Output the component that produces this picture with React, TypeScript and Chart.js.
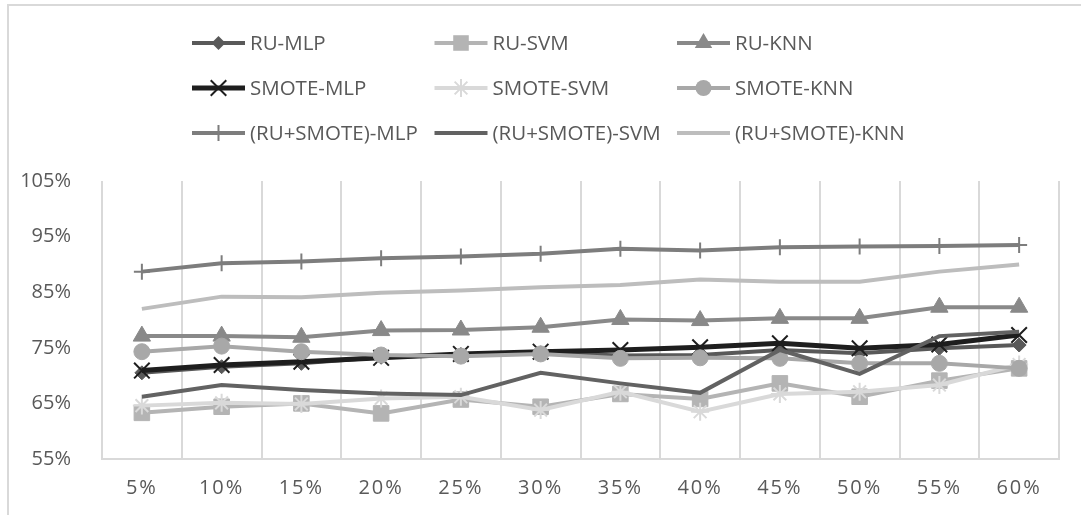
import React, { useEffect, useRef } from 'react';
import { Chart, registerables } from 'chart.js';

Chart.register(...registerables);

const categories = ['5%', '10%', '15%', '20%', '25%', '30%', '35%', '40%', '45%', '50%', '55%', '60%'];

const ruMlp = [70.5, 71.6, 72.2, 73.3, 73.8, 74.1, 73.6, 73.7, 74.6, 74.0, 74.9, 75.5];
const ruSvm = [63.3, 64.4, 65.0, 63.2, 65.7, 64.4, 66.7, 65.8, 68.6, 66.2, 69.1, 71.3];
const ruKnn = [77.1, 77.1, 76.9, 78.1, 78.2, 78.7, 80.1, 79.9, 80.3, 80.3, 82.3, 82.3];
const smoteMlp = [70.9, 71.9, 72.5, 73.2, 73.9, 74.3, 74.6, 75.1, 75.8, 74.9, 75.6, 77.3];
const smoteSvm = [64.6, 65.1, 64.9, 65.9, 66.2, 63.8, 67.1, 63.5, 66.7, 67.1, 68.3, 72.0];
const smoteKnn = [74.3, 75.3, 74.3, 73.7, 73.5, 73.9, 73.1, 73.2, 73.1, 72.2, 72.2, 71.3];
const bothMlp = [88.7, 90.2, 90.5, 91.1, 91.4, 91.9, 92.8, 92.5, 93.1, 93.2, 93.3, 93.5];
const bothSvm = [66.2, 68.3, 67.4, 66.8, 66.5, 70.5, 68.6, 66.9, 74.6, 70.3, 77.1, 77.9];
const bothKnn = [82.0, 84.2, 84.1, 84.9, 85.3, 85.9, 86.3, 87.3, 86.9, 86.9, 88.7, 90.0];

const yMin = 55;
const yMax = 105;
const yStep = 10;

type Series = {
  label: string;
  data: number[];
  color: string;
  style: string | false;
  radius: number;
  legendRadius: number;
  width: number;
  markerWidth: number;
};

const series: Series[] = [
  { label: 'RU-MLP', data: ruMlp, color: '#595959', style: 'rectRot', radius: 7, legendRadius: 7, width: 4, markerWidth: 1 },
  { label: 'RU-SVM', data: ruSvm, color: '#b4b4b4', style: 'rect', radius: 11, legendRadius: 11, width: 4, markerWidth: 1 },
  { label: 'RU-KNN', data: ruKnn, color: '#898989', style: 'triangle', radius: 10, legendRadius: 10, width: 4, markerWidth: 1 },
  { label: 'SMOTE-MLP', data: smoteMlp, color: '#1e1e1e', style: 'crossRot', radius: 11, legendRadius: 11, width: 5, markerWidth: 2 },
  { label: 'SMOTE-SVM', data: smoteSvm, color: '#d9d9d9', style: 'star', radius: 9, legendRadius: 9, width: 4, markerWidth: 2 },
  { label: 'SMOTE-KNN', data: smoteKnn, color: '#a8a8a8', style: 'circle', radius: 8, legendRadius: 8, width: 4, markerWidth: 1 },
  { label: '(RU+SMOTE)-MLP', data: bothMlp, color: '#7d7d7d', style: 'cross', radius: 8, legendRadius: 8, width: 4, markerWidth: 2 },
  { label: '(RU+SMOTE)-SVM', data: bothSvm, color: '#626262', style: false, radius: 0, legendRadius: 0, width: 4, markerWidth: 1 },
  { label: '(RU+SMOTE)-KNN', data: bothKnn, color: '#bdbdbd', style: false, radius: 0, legendRadius: 0, width: 4, markerWidth: 1 },
];

function drawMarker(ctx: CanvasRenderingContext2D, style: string | false, x: number, y: number, r: number, color: string, lw: number) {
  if (!style || r <= 0) return;
  ctx.save();
  ctx.fillStyle = color;
  ctx.strokeStyle = color;
  ctx.lineWidth = lw;
  ctx.beginPath();
  switch (style) {
    case 'rectRot':
      ctx.moveTo(x, y - r);
      ctx.lineTo(x + r, y);
      ctx.lineTo(x, y + r);
      ctx.lineTo(x - r, y);
      ctx.closePath();
      ctx.fill();
      break;
    case 'rect': {
      const s = r * Math.SQRT1_2;
      ctx.rect(x - s, y - s, 2 * s, 2 * s);
      ctx.fill();
      break;
    }
    case 'triangle':
      ctx.moveTo(x, y - r);
      ctx.lineTo(x + r * 0.87, y + r * 0.5);
      ctx.lineTo(x - r * 0.87, y + r * 0.5);
      ctx.closePath();
      ctx.fill();
      break;
    case 'circle':
      ctx.arc(x, y, r, 0, Math.PI * 2);
      ctx.fill();
      break;
    case 'crossRot': {
      const d = r * Math.SQRT1_2;
      ctx.moveTo(x - d, y - d); ctx.lineTo(x + d, y + d);
      ctx.moveTo(x + d, y - d); ctx.lineTo(x - d, y + d);
      ctx.stroke();
      break;
    }
    case 'star': {
      const d = r * Math.SQRT1_2;
      ctx.moveTo(x - d, y - d); ctx.lineTo(x + d, y + d);
      ctx.moveTo(x + d, y - d); ctx.lineTo(x - d, y + d);
      ctx.moveTo(x, y - r); ctx.lineTo(x, y + r);
      ctx.moveTo(x - r, y); ctx.lineTo(x + r, y);
      ctx.stroke();
      break;
    }
    case 'cross':
      ctx.moveTo(x, y - r); ctx.lineTo(x, y + r);
      ctx.moveTo(x - r, y); ctx.lineTo(x + r, y);
      ctx.stroke();
      break;
  }
  ctx.restore();
}

const legendPlugin = {
  id: 'gridLegend',
  afterDraw(chart: any) {
    const ctx: CanvasRenderingContext2D = chart.ctx;
    series.forEach((s, i) => {
      const col = i % 3;
      const row = Math.floor(i / 3);
      const x0 = 183 + col * 242.5;
      const y = 37 + row * 45;
      ctx.save();
      ctx.strokeStyle = s.color;
      ctx.lineWidth = s.width;
      ctx.beginPath();
      ctx.moveTo(x0, y);
      ctx.lineTo(x0 + 53, y);
      ctx.stroke();
      drawMarker(ctx, s.style, x0 + 26.5, y, s.legendRadius, s.color, s.markerWidth);
      ctx.font = '20.5px "Open Sans", sans-serif';
      ctx.fillStyle = '#595959';
      ctx.textBaseline = 'middle';
      ctx.textAlign = 'left';
      ctx.fillText(s.label, x0 + 58, y + 1);
      ctx.restore();
    });
  },
};

export default function App() {
  const canvasRef = useRef<HTMLCanvasElement | null>(null);

  useEffect(() => {
    const canvas = canvasRef.current;
    if (!canvas) return;
    const chart = new Chart(canvas, {
      type: 'line',
      data: {
        labels: categories,
        datasets: series.map((s, i) => ({
          label: s.label,
          data: s.data,
          borderColor: s.color,
          backgroundColor: s.color,
          borderWidth: s.width,
          pointStyle: s.style as any,
          pointRadius: s.radius,
          pointHoverRadius: s.radius,
          pointBackgroundColor: s.color,
          pointBorderColor: s.color,
          pointBorderWidth: s.markerWidth,
          tension: 0,
          fill: false,
          order: -i,
        })),
      },
      options: {
        animation: false,
        responsive: false,
        maintainAspectRatio: false,
        layout: { padding: { top: 175, right: 22, bottom: 15, left: 0 } },
        plugins: {
          legend: { display: false },
          tooltip: { enabled: false },
        },
        scales: {
          x: {
            offset: true,
            grid: { display: true, color: '#d9d9d9', lineWidth: 2, offset: true, drawTicks: false },
            border: { display: true, color: '#d9d9d9', width: 2 },
            afterFit: (scale: any) => { scale.height = 41; },
            ticks: {
              color: '#595959',
              font: { family: '"Open Sans", sans-serif', size: 20 },
              padding: 17,
              maxRotation: 0,
              autoSkip: false,
            },
          },
          y: {
            min: yMin,
            max: yMax,
            grid: { display: false },
            border: { display: false },
            afterFit: (scale: any) => { scale.width = 93; },
            ticks: {
              stepSize: yStep,
              color: '#595959',
              font: { family: '"Open Sans", sans-serif', size: 20 },
              padding: 23,
              callback: (v: any) => `${v}%`,
            },
          },
        },
      },
      plugins: [legendPlugin],
    });
    const xs: any = chart.scales.x;
    const orig = xs.drawLabels.bind(xs);
    xs.drawLabels = (area: any) => {
      const c: any = chart.ctx;
      c.save();
      c.letterSpacing = '2px';
      orig(area);
      c.restore();
    };
    chart.draw();
    return () => chart.destroy();
  }, []);

  return (
    <div
      style={{
        position: 'fixed',
        left: 7,
        top: 4,
        width: 1120,
        height: 540,
        border: '2px solid #d9d9d9',
        background: '#fff',
      }}
    >
      <canvas ref={canvasRef} width={1072} height={509} style={{ position: 'absolute', left: 0, top: 0, width: 1072, height: 509 }} />
    </div>
  );
}
